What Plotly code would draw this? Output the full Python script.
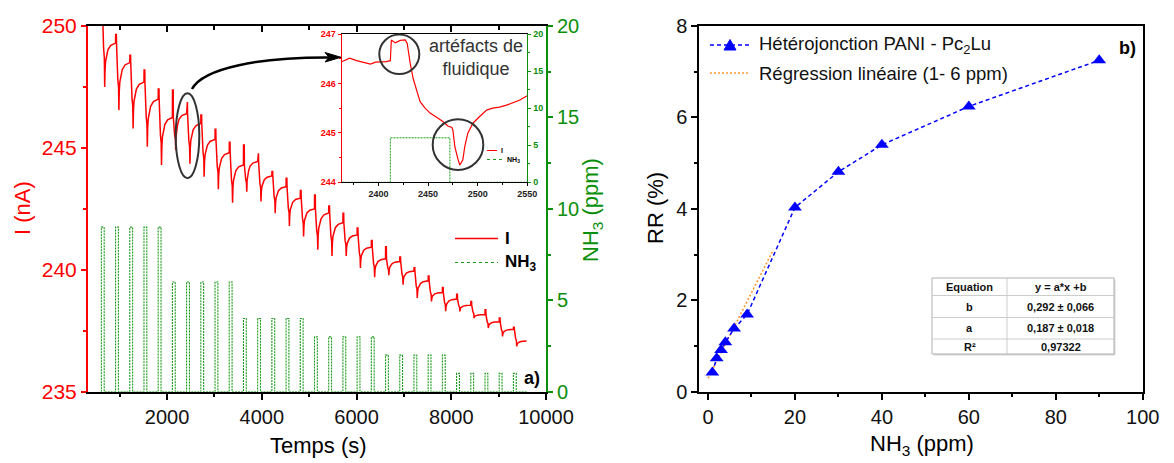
import plotly.graph_objects as go

# ---------------- data ----------------
# Panel a) : pulses of NH3 (start time, s) and concentration (ppm)
pulse_start = [612, 912, 1212, 1512, 1812, 2112, 2412, 2712, 3012, 3312,
               3612, 3912, 4212, 4512, 4812, 5112, 5412, 5712, 6012, 6312,
               6612, 6912, 7212, 7512, 7812, 8112, 8412, 8712, 9012, 9312]
pulse_len = 60
nh3_ppm = [9, 9, 9, 9, 9, 6, 6, 6, 6, 6, 4, 4, 4, 4, 4,
           3, 3, 3, 3, 3, 2, 2, 2, 2, 2, 1, 1, 1, 1, 1]
# current level just before each pulse, top of the fluidic spike, and minimum after the pulse (nA)
plateau = [251.0, 249.3, 248.5, 247.7, 247.0, 246.25, 246.4, 246.0, 245.35, 244.8,
           244.3, 244.44, 243.85, 243.41, 242.94, 242.5, 242.33, 241.93, 241.43, 240.93,
           240.45, 240.34, 239.95, 239.55, 239.07, 238.8, 238.55, 238.16, 237.87, 237.56]
spike_top = [251.2, 249.65, 248.8, 248.2, 247.42, 247.38, 246.88, 246.35, 245.77, 245.23,
             245.12, 244.78, 244.03, 243.76, 243.25, 243.07, 242.62, 242.32, 241.71, 241.2,
             240.95, 240.52, 240.08, 239.75, 239.27, 239.0, 238.7, 238.36, 238.02, 237.64]
dip_min = [247.5, 246.55, 245.8, 245.05, 244.3, 244.9, 244.35, 243.82, 243.3, 242.75,
           243.2, 242.8, 242.32, 241.8, 241.37, 240.82, 240.57, 240.57, 240.07, 239.7,
           239.78, 239.39, 238.84, 238.7, 238.3, 238.29, 238.02, 237.61, 237.27, 236.86]
t_first, t_last, I_last = 600, 9590, 237.08
# shape of one cycle (offsets in s, fraction of the drop / recovery)
spike_off = [2, 17]
drop_off = [20, 30, 47, 63, 70]
drop_frac = [0.0, 0.39, 0.54, 0.66, 1.0]
rec_off = [78, 90, 110, 140, 200]
rec_frac = [0.39, 0.59, 0.70, 0.85, 0.95]

# Inset (zoom on the 2412 s pulse)
inset_t = [2363, 2371, 2378, 2385, 2392, 2397, 2403, 2408, 2412, 2413, 2417, 2422, 2427, 2429,
           2432, 2435, 2439, 2442, 2447, 2452, 2459, 2465, 2470, 2474, 2475, 2477, 2480, 2482,
           2485, 2487, 2490, 2495, 2502, 2509, 2515, 2522, 2529, 2536, 2542, 2550]
inset_I = [246.44, 246.51, 246.46, 246.42, 246.39, 246.43, 246.43, 246.44, 246.46, 246.88,
           246.82, 246.87, 246.88, 246.81, 246.41, 246.10, 245.83, 245.63, 245.50, 245.40,
           245.31, 245.23, 245.14, 245.11, 245.06, 244.72, 244.48, 244.35, 244.45, 244.72,
           244.99, 245.19, 245.33, 245.46, 245.50, 245.52, 245.56, 245.61, 245.66, 245.75]

# Panel b)
rr_conc = [1, 2, 3, 4, 6, 9, 20, 30, 40, 60, 90]
rr_val = [0.42, 0.73, 0.91, 1.08, 1.38, 1.69, 4.03, 4.81, 5.40, 6.24, 7.25]
fit_x = [0, 15]
fit_y = [0.29, 3.10]
table_rows = [["Equation", "y = a*x +b"], ["b", "0,292 ± 0,066"],
              ["a", "0,187 ± 0,018"], ["R²", "0,97322"]]

# ---------------- build traces ----------------
cur_t, cur_I = [t_first], [plateau[0]]
for k, t0 in enumerate(pulse_start):
    P, S, M = plateau[k], spike_top[k], dip_min[k]
    Pn = plateau[k + 1] if k + 1 < len(plateau) else I_last
    if k > 0:
        cur_t.append(t0); cur_I.append(P)
    for o in spike_off:
        cur_t.append(t0 + o); cur_I.append(S)
    for o, f in zip(drop_off, drop_frac):
        cur_t.append(t0 + o); cur_I.append(P - f * (P - M))
    for o, f in zip(rec_off, rec_frac):
        if t0 + o < t_last:
            cur_t.append(t0 + o); cur_I.append(M + f * (Pn - M))
cur_t.append(t_last); cur_I.append(I_last)

gas_t, gas_c = [t_first], [0]
for t0, c in zip(pulse_start, nh3_ppm):
    gas_t += [t0, t0, t0 + pulse_len, t0 + pulse_len]
    gas_c += [0, c, c, 0]
gas_t.append(9600); gas_c.append(0)

# ---------------- figure ----------------
W, H = 1174, 463
OFF = 8  # page body margin of the html page
def PX(x): return (x - OFF) / W
def PY(y): return 1 - (y - OFF) / H

FONT = "Liberation Sans, Arial, sans-serif"
RED = "#ff0000"
GREEN = "#0a8f0a"
GAS = "#1a9a1a"

fig = go.Figure()
fig.add_trace(go.Scatter(x=cur_t, y=cur_I, mode="lines", line=dict(color=RED, width=1.5),
                         xaxis="x", yaxis="y", showlegend=False))
fig.add_trace(go.Scatter(x=gas_t, y=gas_c, mode="lines", line=dict(color=GAS, width=1.1, dash="2px,1px"),
                         xaxis="x", yaxis="y2", showlegend=False))
fig.add_trace(go.Scatter(x=[], y=[], xaxis="x4", yaxis="y", showlegend=False))
fig.add_trace(go.Scatter(x=inset_t, y=inset_I, mode="lines", line=dict(color=RED, width=1.2),
                         xaxis="x3", yaxis="y3", showlegend=False))
fig.add_trace(go.Scatter(x=gas_t, y=gas_c, mode="lines", line=dict(color=GAS, width=1, dash="2px,1px"),
                         xaxis="x3", yaxis="y4", showlegend=False))
fig.add_trace(go.Scatter(x=fit_x, y=fit_y, mode="lines", line=dict(color="#ff9933", width=1.6, dash="2px,2px"),
                         xaxis="x2", yaxis="y5", showlegend=False))
fig.add_trace(go.Scatter(x=rr_conc, y=rr_val, mode="lines+markers",
                         line=dict(color="#0000ff", width=1.5, dash="4px,3px"),
                         marker=dict(symbol="triangle-up", size=12, color="#0000ff"),
                         xaxis="x2", yaxis="y5", showlegend=False))

def ax(**kw):
    base = dict(showgrid=False, zeroline=False, automargin=False, showline=True,
                ticks="outside", tickformat="d")
    base.update(kw)
    return base

tf20 = dict(family=FONT, size=20, color="#111")
main_dom_y = [PY(391.7), PY(26)]
fig.update_layout(
    width=W, height=H, margin=dict(l=0, r=0, t=0, b=0),
    paper_bgcolor="white", plot_bgcolor="white", template="none",
    font=dict(family=FONT),
    xaxis=ax(domain=[PX(88), PX(546)], range=[330, 10000], anchor="y", linecolor="black", linewidth=2,
             tick0=0, dtick=2000, ticklen=6, tickwidth=1.5, tickcolor="black", tickfont=tf20,
             minor=dict(ticks="outside", dtick=1000, ticklen=3, tickwidth=1.5, tickcolor="black")),
    xaxis4=ax(overlaying="x", anchor="y", side="top", range=[330, 10000], linecolor="black", linewidth=2,
              ticks="inside", tick0=0, dtick=2000, ticklen=6, tickwidth=1.5, tickcolor="black",
              showticklabels=False,
              minor=dict(ticks="inside", dtick=1000, ticklen=4, tickwidth=1.5, tickcolor="black")),
    yaxis=ax(domain=main_dom_y, range=[235, 250], anchor="x", linecolor=RED, linewidth=2,
             dtick=5, ticklen=5, tickwidth=1.5, tickcolor=RED,
             tickfont=dict(family=FONT, size=21, color=RED),
             minor=dict(ticks="outside", dtick=2.5, ticklen=3, tickwidth=1.5, tickcolor=RED)),
    yaxis2=ax(overlaying="y", anchor="x", side="right", range=[0, 20], linecolor=GREEN, linewidth=2,
              dtick=5, ticklen=5, tickwidth=1.5, tickcolor=GREEN,
              tickfont=dict(family=FONT, size=20, color=GREEN),
              minor=dict(ticks="outside", dtick=2.5, ticklen=3, tickwidth=1.5, tickcolor=GREEN)),
    xaxis3=ax(domain=[PX(341.7), PX(527.3)], range=[2363, 2550], anchor="y3", linecolor="black",
              linewidth=1.2, mirror=True, tick0=2400, dtick=50, ticklen=3, tickwidth=1, tickcolor="black",
              tickfont=dict(family=FONT, size=9, color="#222", weight="bold"),
              minor=dict(ticks="outside", dtick=25, ticklen=2, tickwidth=1, tickcolor="black")),
    yaxis3=ax(domain=[PY(182.3), PY(34)], range=[244, 247], anchor="x3", linecolor=RED, linewidth=1.2,
              dtick=1, ticklen=3, tickwidth=1, tickcolor=RED,
              tickfont=dict(family=FONT, size=9, color=RED, weight="bold"),
              minor=dict(ticks="outside", dtick=0.5, ticklen=2, tickwidth=1, tickcolor=RED)),
    yaxis4=ax(overlaying="y3", anchor="x3", side="right", range=[0, 20], linecolor=GREEN, linewidth=1.2,
              dtick=5, ticklen=3, tickwidth=1, tickcolor=GREEN,
              tickfont=dict(family=FONT, size=9, color=GREEN, weight="bold"),
              minor=dict(ticks="outside", dtick=2.5, ticklen=2, tickwidth=1, tickcolor=GREEN)),
    xaxis2=ax(domain=[PX(699.3), PX(1142.7)], range=[-2, 100], anchor="y5", linecolor="black", linewidth=2,
              mirror=True, tick0=0, dtick=20, ticklen=6, tickwidth=1.5, tickcolor="black", tickfont=tf20,
              minor=dict(ticks="outside", dtick=10, ticklen=3, tickwidth=1.5, tickcolor="black")),
    yaxis5=ax(domain=main_dom_y, range=[0, 8], anchor="x2", linecolor="black", linewidth=2,
              mirror=True, dtick=2, ticklen=6, tickwidth=1.5, tickcolor="black", tickfont=tf20,
              minor=dict(ticks="outside", dtick=1, ticklen=3, tickwidth=1.5, tickcolor="black")),
)

ann = []
def txt(x, y, s, size, color="black", bold=False, xanchor="center", angle=0):
    ann.append(dict(x=PX(x), y=PY(y), xref="paper", yref="paper", text=s, showarrow=False,
                    xanchor=xanchor, yanchor="middle", textangle=angle,
                    font=dict(family=FONT, size=size, color=color, weight="bold" if bold else "normal")))

# axis titles
txt(22, 208, "I (nA)", 22, RED, angle=-90)
txt(318, 445, "Temps (s)", 22)
txt(592, 210, "NH<sub>3</sub> (ppm)", 22, GREEN, angle=-90)
txt(655, 208, "RR (%)", 22, angle=-90)
txt(922, 445, "NH<sub>3</sub> (ppm)", 22)
txt(532, 378, "a)", 18, bold=True)
txt(1127, 48, "b)", 18, bold=True)
txt(476, 58, "artéfacts de<br>fluidique", 18, "#333")

shapes = []
def line(x0, y0, x1, y1, color, width=1.5, dash="solid"):
    shapes.append(dict(type="line", xref="paper", yref="paper", x0=PX(x0), y0=PY(y0), x1=PX(x1), y1=PY(y1),
                       line=dict(color=color, width=width, dash=dash)))
def ellipse(x0, y0, x1, y1):
    shapes.append(dict(type="circle", xref="paper", yref="paper", x0=PX(x0), y0=PY(y1), x1=PX(x1), y1=PY(y0),
                       line=dict(color="#333", width=2)))
def path(pts, closed=False, fill=None, color="black", width=2.5, curve=False):
    if curve:
        d = "M {},{} C {},{} {},{} {},{}".format(*sum([[PX(a), PY(b)] for a, b in pts], []))
    else:
        d = "M " + " L ".join(f"{PX(a)},{PY(b)}" for a, b in pts) + (" Z" if closed else "")
    s = dict(type="path", xref="paper", yref="paper", path=d, line=dict(color=color, width=width))
    if fill:
        s["fillcolor"] = fill
    shapes.append(s)

# legend panel a)
line(455, 238.5, 498, 238.5, RED, 1.5)
txt(503, 238, "I", 17, bold=True, xanchor="left")
line(455, 262.5, 498, 262.5, GAS, 1.2, "dot")
txt(503, 263, "NH<sub>3</sub>", 17, bold=True, xanchor="left")
# inset legend
line(487, 150.5, 497, 150.5, RED, 1)
txt(499, 150, "I", 7, bold=True, xanchor="left")
line(487, 159.5, 503, 159.5, GAS, 1, "dot")
txt(505, 159.5, "NH<sub>3</sub>", 7, bold=True, xanchor="left")

# ellipses and arrow
ellipse(175.7, 93.3, 199.3, 178.3)
ellipse(379.3, 34.5, 419.3, 74)
ellipse(432.7, 119.3, 483.3, 170)
path([(192, 89), (203, 68), (260, 57), (330, 57.4)], curve=True, width=2.5)
path([(325, 52.5), (341, 57.3), (325, 62), (329, 57.3)], closed=True, fill="black", width=1)

# legend panel b)
line(710, 45, 750, 45, "#0000ff", 1.5, "4px,3px")
path([(724, 50), (730, 39.5), (736, 50)], closed=True, fill="#0000ff", color="#0000ff", width=1)
txt(757, 45, "Hétérojonction PANI - Pc<sub>2</sub>Lu", 18.5, "#111", xanchor="left")
line(710, 73, 750, 73, "#ff9933", 1.6, "2px,2px")
txt(757, 73, "Régression linéaire (1- 6 ppm)", 18.5, "#111", xanchor="left")

# table
tx0, tx1, tdiv = 932, 1114, 1007
row_y = [278, 295.5, 317.5, 339, 354]
shapes.append(dict(type="rect", xref="paper", yref="paper", x0=PX(tx0 + 1.5), x1=PX(tx1 + 1.5),
                   y0=PY(row_y[-1] + 1.5), y1=PY(row_y[0] + 1.5), line=dict(width=0), fillcolor="#d8d8d8"))
shapes.append(dict(type="rect", xref="paper", yref="paper", x0=PX(tx0), x1=PX(tx1),
                   y0=PY(row_y[-1]), y1=PY(row_y[0]), line=dict(color="#b0b0b0", width=1), fillcolor="white"))
for yv in row_y[1:-1]:
    line(tx0, yv, tx1, yv, "#cccccc", 1)
line(tdiv, row_y[0], tdiv, row_y[-1], "#cccccc", 1)
for i, (c1, c2) in enumerate(table_rows):
    yc = (row_y[i] + row_y[i + 1]) / 2
    txt((tx0 + tdiv) / 2, yc, c1, 11, "#111", bold=True)
    txt((tdiv + tx1) / 2, yc, c2, 11, "#111", bold=True)

fig.update_layout(annotations=ann, shapes=shapes)
fig.write_html("out.html")
